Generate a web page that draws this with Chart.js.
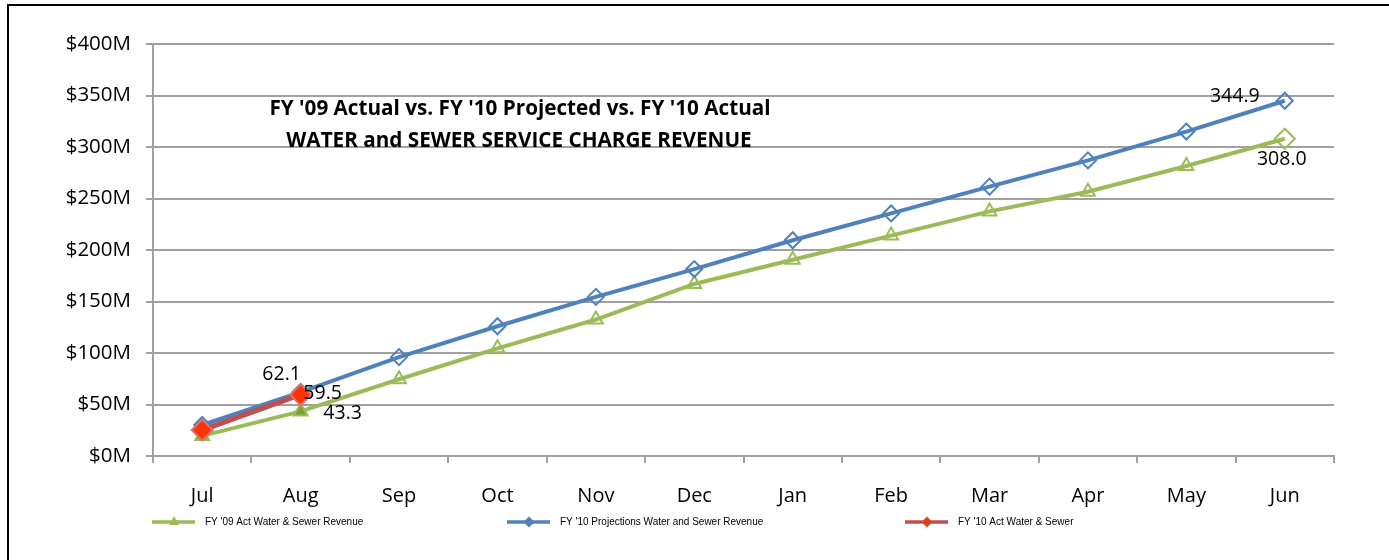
<!DOCTYPE html>
<html><head><meta charset="utf-8">
<script src="https://cdn.jsdelivr.net/npm/chart.js@4.4.0/dist/chart.umd.min.js"></script>
<style>
html,body{margin:0;padding:0;background:#fff;overflow:hidden;}
#wrap{position:relative;width:1389px;height:560px;background:#fff;}
#frame{position:absolute;left:7px;top:4px;width:1400px;height:600px;border-top:2px solid #000;border-left:2px solid #000;pointer-events:none;}
canvas{position:absolute;left:0;top:0;}
</style></head>
<body><div id="wrap"><canvas id="c" width="1389" height="560"></canvas><div id="frame"></div></div>
<script>
const months = ['Jul','Aug','Sep','Oct','Nov','Dec','Jan','Feb','Mar','Apr','May','Jun'];
const fy09Actual = [19.5, 43.3, 74.5, 104.5, 132.5, 167.0, 190.5, 214.0, 237.5, 256.5, 281.5, 308.0];
const fy10Projected = [30.1, 62.1, 96.0, 126.0, 154.5, 181.5, 209.5, 235.5, 261.5, 287.0, 315.0, 344.9];
const fy10Actual = [25.2, 59.5, null, null, null, null, null, null, null, null, null, null];
const yTickValues = [0, 50, 100, 150, 200, 250, 300, 350, 400];
const seriesNames = ["FY '09 Act Water & Sewer Revenue", "FY '10 Projections Water and Sewer Revenue", "FY '10 Act Water & Sewer"];
const titleLines = ["FY '09 Actual vs. FY '10 Projected vs. FY '10 Actual", "WATER and SEWER SERVICE CHARGE REVENUE"];

const GREEN = '#9BBB59', BLUE = '#4F81BD', RED = '#C0504D';
const FONT = "'Open Sans', 'Liberation Sans', sans-serif";

const titlePlugin = {
  id: 'innerTitle',
  afterDraw(chart) {
    const ctx = chart.ctx;
    ctx.save();
    ctx.font = "bold 20.7px " + FONT;
    ctx.fillStyle = '#000';
    ctx.textAlign = 'center';
    ctx.textBaseline = 'middle';
    ctx.fillText(titleLines[0], 520, 109);
    ctx.fillText(titleLines[1], 519, 141);
    ctx.restore();
  }
};

const labelPlugin = {
  id: 'pointLabels',
  afterDatasetsDraw(chart) {
    const items = [
      {ds: 1, i: 1, dx: -19, dy: -18},
      {ds: 2, i: 1, dx: 22, dy: -1},
      {ds: 0, i: 1, dx: 42, dy: 2},
      {ds: 1, i: 11, dx: -50, dy: -4},
      {ds: 0, i: 11, dx: -3, dy: 21}
    ];
    const ctx = chart.ctx;
    ctx.save();
    ctx.font = "19.5px " + FONT;
    ctx.fillStyle = '#000';
    ctx.textAlign = 'center';
    ctx.textBaseline = 'middle';
    items.forEach(it => {
      const el = chart.getDatasetMeta(it.ds).data[it.i];
      const v = chart.data.datasets[it.ds].data[it.i];
      ctx.fillText(v.toFixed(1), el.x + it.dx, el.y + it.dy);
    });
    ctx.restore();
  }
};

const legendPlugin = {
  id: 'excelLegend',
  afterDraw(chart) {
    const ctx = chart.ctx;
    const starts = [152, 507, 905];
    const y = 522;
    ctx.save();
    chart.data.datasets.forEach((ds, k) => {
      const x0 = starts[k];
      ctx.strokeStyle = ds.borderColor;
      ctx.lineWidth = 3.5;
      ctx.beginPath(); ctx.moveTo(x0, y); ctx.lineTo(x0 + 43, y); ctx.stroke();
      const opts = {pointStyle: k === 0 ? 'triangle' : 'rectRot', radius: 4.5, rotation: 0, borderWidth: 1.5};
      ctx.fillStyle = k === 2 ? '#FF3300' : ds.borderColor;
      ctx.strokeStyle = ds.borderColor;
      ctx.lineWidth = 1.5;
      Chart.helpers.drawPoint(ctx, opts, x0 + 22, y);
      ctx.font = "10px 'Liberation Sans', sans-serif";
      ctx.fillStyle = '#000';
      ctx.textBaseline = 'middle';
      ctx.textAlign = 'left';
      ctx.fillText(ds.label, x0 + 53, y);
    });
    ctx.restore();
  }
};

new Chart(document.getElementById('c'), {
  type: 'line',
  data: {
    labels: months,
    datasets: [
      {
        label: seriesNames[0], data: fy09Actual, order: 2,
        borderColor: GREEN, borderWidth: 4, tension: 0,
        pointStyle: c => c.dataIndex === months.length - 1 ? 'rectRot' : 'triangle',
        pointRadius: c => c.dataIndex === months.length - 1 ? 10 : 8,
        pointBorderColor: GREEN,
        pointBackgroundColor: c => c.dataIndex < 2 ? '#7F9F3F' : 'rgba(0,0,0,0)',
        pointBorderWidth: 2
      },
      {
        label: seriesNames[1], data: fy10Projected, order: 1,
        borderColor: BLUE, borderWidth: 4, tension: 0,
        pointStyle: 'rectRot', pointRadius: 8,
        pointBorderColor: BLUE, pointBackgroundColor: 'rgba(0,0,0,0)', pointBorderWidth: 2
      },
      {
        label: seriesNames[2], data: fy10Actual, order: 0,
        borderColor: RED, borderWidth: 5, tension: 0,
        pointStyle: 'rectRot', pointRadius: 10.5,
        pointBorderColor: '#D9716C', pointBackgroundColor: '#FF3300', pointBorderWidth: 2
      }
    ]
  },
  options: {
    responsive: false,
    animation: false,
    devicePixelRatio: 1,
    layout: {padding: {left: 0, top: 44, right: 55, bottom: 36}},
    plugins: {legend: {display: false}, title: {display: false}, tooltip: {enabled: false}},
    scales: {
      x: {
        type: 'category', offset: true,
        grid: {display: true, drawOnChartArea: false, drawTicks: true, tickLength: 7, color: '#A0A0A0', lineWidth: 2, offset: true},
        border: {display: true, color: '#A0A0A0', width: 2},
        ticks: {color: '#000', font: {family: FONT, size: 20}, padding: 21, maxRotation: 0},
        afterFit(s) { s.height = 68; }
      },
      y: {
        min: 0, max: 400,
        afterBuildTicks(s) { s.ticks = yTickValues.map(v => ({value: v})); },
        grid: {color: '#A0A0A0', lineWidth: 2, tickLength: 7, drawTicks: true},
        border: {display: true, color: '#A0A0A0', width: 2},
        ticks: {color: '#000', font: {family: FONT, size: 20.5}, padding: 15, callback: v => '$' + v + 'M'},
        afterFit(s) { s.width = 153; }
      }
    }
  },
  plugins: [titlePlugin, labelPlugin, legendPlugin]
});
</script>
</body></html>
